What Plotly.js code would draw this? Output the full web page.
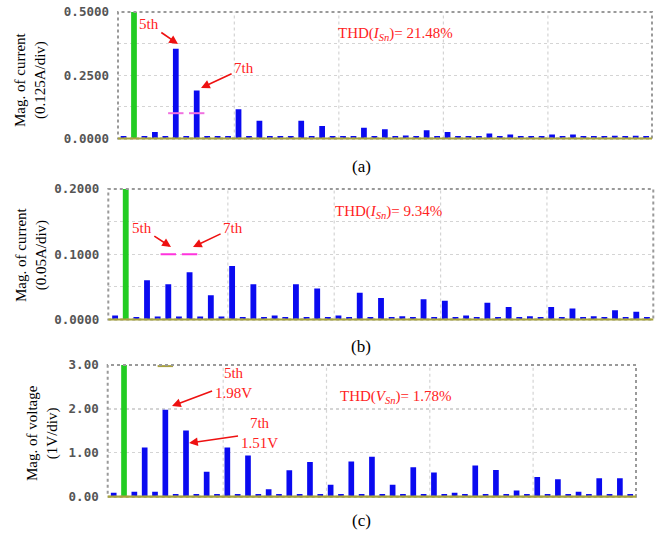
<!DOCTYPE html>
<html>
<head>
<meta charset="utf-8">
<script src="https://cdn.plot.ly/plotly-3.0.1.min.js"></script>
<style>html,body{margin:0;padding:0;background:#fff;}#chart{width:660px;height:533px;}</style>
</head>
<body>
<div id="chart"></div>
<script>
// Harmonic order (0 = DC, 1 = fundamental)
var harmonics = [0,1,2,3,4,5,6,7,8,9,10,11,12,13,14,15,16,17,18,19,20,21,22,23,24,25,26,27,28,29,30,31,32,33,34,35,36,37,38,39,40,41,42,43,44,45,46,47,48,49,50];

// (a) current spectrum, A (fundamental is off-scale)
var currentA = [0.01,1.0,0.01,0.026,0.01,0.355,0.01,0.19,0.01,0.01,0.01,0.116,0.01,0.07,0.01,0.01,0.01,0.07,0.01,0.049,0.01,0.01,0.01,0.042,0.01,0.037,0.01,0.012,0.01,0.033,0.01,0.026,0.01,0.01,0.01,0.02,0.01,0.016,0.01,0.01,0.01,0.016,0.01,0.016,0.01,0.01,0.01,0.011,0.01,0.011,0.01];

// (b) current spectrum, A
var currentB = [0.006,0.5,0.004,0.06,0.0045,0.054,0.0045,0.0725,0.0045,0.037,0.0045,0.082,0.004,0.054,0.004,0.006,0.004,0.054,0.004,0.0475,0.004,0.006,0.004,0.041,0.004,0.033,0.004,0.005,0.004,0.031,0.004,0.0286,0.004,0.006,0.004,0.0255,0.004,0.019,0.004,0.005,0.004,0.019,0.004,0.017,0.004,0.005,0.004,0.014,0.004,0.012,0.004];

// (c) voltage spectrum, V
var voltageC = [0.09,10,0.11,1.12,0.11,1.98,0.06,1.51,0.06,0.57,0.06,1.12,0.06,0.94,0.06,0.17,0.06,0.6,0.06,0.79,0.06,0.27,0.06,0.8,0.06,0.91,0.06,0.27,0.06,0.67,0.06,0.55,0.06,0.09,0.06,0.71,0.06,0.61,0.06,0.14,0.06,0.45,0.06,0.4,0.06,0.11,0.06,0.42,0.06,0.42,0.06];

// cursor markers
var markA_x = [5,7], markA_y = [0.1,0.1];
var markB_x = [5,7], markB_y = [0.1,0.1];
var markC_x = [5],   markC_y = [2.975];

// y tick values / labels (labelled ticks) and grid step per panel
var tickA_vals = [0,0.25,0.5],  tickA_text = ['0.0000','0.2500','0.5000'], gridA_step = 0.125;
var tickB_vals = [0,0.1,0.2],   tickB_text = ['0.0000','0.1000','0.2000'], gridB_step = 0.05;
var tickC_vals = [0,1,2,3],     tickC_text = ['0.00','1.00','2.00','3.00'], gridC_step = 1;

var BLUE = '#0a0af0', GREEN = '#22cc22', RED = '#ff2222';

function colors(h){ return h.map(function(v){ return v===1 ? GREEN : BLUE; }); }

function barTrace(y, xa, ya){
  return {type:'bar', x:harmonics, y:y, xaxis:xa, yaxis:ya, width:0.55,
          marker:{color:colors(harmonics), line:{width:0}}, hoverinfo:'x+y'};
}
function markTrace(x, y, xa, ya, col){
  return {type:'scatter', mode:'markers', x:x, y:y, xaxis:xa, yaxis:ya,
          marker:{symbol:'line-ew', size:11, line:{color:col, width:2}}, cliponaxis:false};
}

var data = [
  barTrace(currentA,'x','y'),
  barTrace(currentB,'x2','y2'),
  barTrace(voltageC,'x3','y3'),
  markTrace(markA_x, markA_y, 'x','y','#f070e0'),
  markTrace(markB_x, markB_y, 'x2','y2','#ff33dd'),
  markTrace(markC_x, markC_y, 'x3','y3','#a8a040')
];

var serif = 'Liberation Serif, Times New Roman, serif';
var tickFont = {family:'DejaVu Sans Mono, monospace', size:12.5, color:'#555555', weight:'bold'};
var GRID = '#d4d4d4';

function xaxis(dom, rng, anchor){
  return {domain:dom, range:rng, anchor:anchor, visible:false, fixedrange:true};
}
function yaxis(dom, rng, vals, text, step, anchor){
  return {domain:dom, range:rng, anchor:anchor, tickmode:'array', tickvals:vals, ticktext:text,
          tickfont:tickFont, ticks:'', ticklabelstandoff:8, zeroline:false,
          showgrid:true, gridcolor:GRID, griddash:'dot', gridwidth:1.2,
          minor:{tick0:0, dtick:step, showgrid:true, gridcolor:GRID, griddash:'dot', gridwidth:1.2, ticks:''},
          showline:false, fixedrange:true};
}

function P(px){ return px/660; }
function Q(py){ return 1 - py/533; }

function txt(s, x, y, opt){
  opt = opt || {};
  return {text:s, xref:'paper', yref:'paper', x:P(x), y:Q(y), showarrow:false,
          xanchor:opt.xanchor||'center', yanchor:'middle', textangle:opt.angle||0,
          font:{family:serif, size:opt.size||15, color:opt.color||RED}};
}
// red label with an arrow: (tx,ty) = label centre, (hx,hy) = arrow head
function label(s, tx, ty, hx, hy){
  return {text:s, xref:'paper', yref:'paper', x:P(hx), y:Q(hy), ax:tx-hx, ay:ty-hy,
          axref:'pixel', ayref:'pixel', showarrow:true, arrowhead:2, arrowsize:1.1,
          arrowwidth:1.6, arrowcolor:'#ee1111', standoff:0, startstandoff:1, align:'center',
          font:{family:serif, size:15, color:RED}};
}

var annotations = [
  // panel (a)
  label('5th',149,24,178,44),
  label('7th',244,68,201,88),
  txt('THD(<i>I</i><sub><i>Sn</i></sub>)= 21.48%',336,34,{xanchor:'left'}),
  txt('Mag. of current<br>(0.125A/div)',30,80,{color:'#000',angle:-90}),
  txt('(a)',361,167,{color:'#000',size:17}),
  // panel (b)
  label('5th',142,228,171,247),
  label('7th',233,228,193,247),
  txt('THD(<i>I</i><sub><i>Sn</i></sub>)= 9.34%',333,212,{xanchor:'left'}),
  txt('Mag. of current<br>(0.05A/div)',32,255,{color:'#000',angle:-90}),
  txt('(b)',361,346,{color:'#000',size:17}),
  // panel (c)
  label('5th<br>1.98V',233,383,172,406),
  label('7th<br>1.51V',259,433,189,443),
  txt('THD(<i>V</i><sub><i>Sn</i></sub>)= 1.78%',338,397,{xanchor:'left'}),
  txt('Mag. of voltage<br>(1V/div)',42,433,{color:'#000',angle:-90}),
  txt('(c)',361,520,{color:'#000',size:17})
];

var vgrid = [10.6, 20.6, 30.6, 40.6];   // vertical grid positions (harmonic axis)

function frame(xa, ya){
  var s = vgrid.map(function(v){
    return {type:'line', xref:xa, yref:ya+' domain', x0:v, x1:v, y0:0, y1:1,
            line:{color:GRID, width:1.2, dash:'dot'}, layer:'below'};
  });
  return s.concat([
    {type:'rect', xref:xa+' domain', yref:ya+' domain', x0:0, x1:1, y0:0, y1:1,
     line:{color:'#9a9a9a', width:2, dash:'dot'}, layer:'above'},
    {type:'line', xref:xa+' domain', yref:ya+' domain', x0:0, x1:1, y0:0, y1:0,
     line:{color:'#a8a43c', width:2.2}, layer:'above'}
  ]);
}

var layout = {
  width:660, height:533, margin:{l:0,r:0,t:0,b:0},
  paper_bgcolor:'#ffffff', plot_bgcolor:'#ffffff', showlegend:false, barmode:'overlay',
  xaxis:  xaxis([118/660, 652/660], [-0.53, 50.56], 'y'),
  yaxis:  yaxis([Q(138.5), Q(12)], [0, 0.5], tickA_vals, tickA_text, gridA_step, 'x'),
  xaxis2: xaxis([108.3/660, 653.3/660], [-0.64, 50.6], 'y2'),
  yaxis2: yaxis([Q(319.5), Q(189)], [0, 0.2], tickB_vals, tickB_text, gridB_step, 'x2'),
  xaxis3: xaxis([107.7/660, 636/660], [-0.58, 50.56], 'y3'),
  yaxis3: yaxis([Q(496.7), Q(365)], [0, 3], tickC_vals, tickC_text, gridC_step, 'x3'),
  annotations: annotations,
  shapes: [].concat(frame('x','y'), frame('x2','y2'), frame('x3','y3'))
};

Plotly.newPlot('chart', data, layout, {staticPlot:true, displayModeBar:false});
</script>
</body>
</html>
